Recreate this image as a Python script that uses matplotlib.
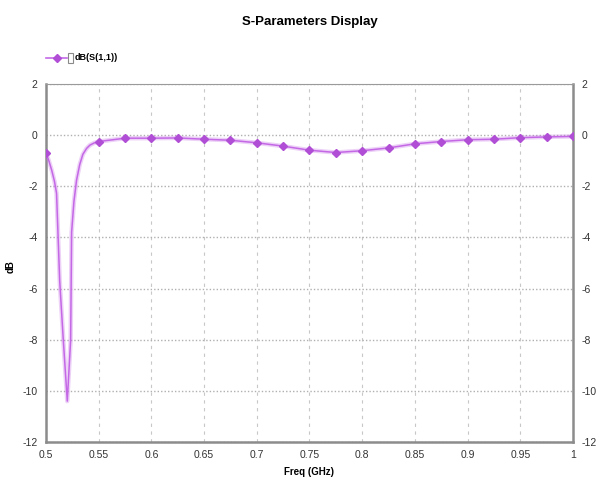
import matplotlib
matplotlib.use("Agg")
import matplotlib.pyplot as plt
from matplotlib.lines import Line2D
from matplotlib.patches import Rectangle

# S(1,1) trace
freq = [0.500, 0.5027, 0.5054, 0.508, 0.510, 0.513, 0.5164, 0.5202, 0.5234,
        0.5243, 0.5265, 0.529, 0.532, 0.535, 0.5385, 0.5417, 0.546, 0.550,
        0.575, 0.600, 0.625, 0.650, 0.675, 0.700, 0.725, 0.750, 0.775,
        0.800, 0.825, 0.850, 0.875, 0.900, 0.925, 0.950, 0.975, 1.000]
db = [-0.70, -1.0, -1.37, -1.8, -2.27, -5.7, -8.0, -10.4, -8.0,
      -3.8, -2.6, -1.76, -1.15, -0.75, -0.52, -0.39, -0.30, -0.25,
      -0.12, -0.12, -0.11, -0.16, -0.20, -0.30, -0.43, -0.59, -0.68,
      -0.61, -0.50, -0.34, -0.25, -0.18, -0.16, -0.10, -0.07, -0.05]
# markers sit on the 0.025 GHz sweep points
marker_idx = [i for i, f in enumerate(freq) if abs(f * 40 - round(f * 40)) < 1e-6]

xticks = [0.5, 0.55, 0.6, 0.65, 0.7, 0.75, 0.8, 0.85, 0.9, 0.95, 1.0]
xtick_labels = ["0.5", "0.55", "0.6", "0.65", "0.7", "0.75", "0.8", "0.85", "0.9", "0.95", "1"]
yticks = [2, 0, -2, -4, -6, -8, -10, -12]

plt.rcParams['font.family'] = ['Liberation Sans', 'DejaVu Sans']

fig = plt.figure(figsize=(6.06, 4.86), dpi=100)
ax = fig.add_axes([0.0759, 0.0905, 0.8696, 0.7367])

line_col = "#c468e6"
mark_col = "#b04ed6"
ax.plot(freq, db, color=line_col, lw=3.2, alpha=0.3, solid_capstyle="round", zorder=3)
ax.plot(freq, db, color=line_col, lw=1.1, zorder=4,
        marker="D", markersize=4.2, markevery=marker_idx,
        markerfacecolor=mark_col, markeredgecolor=mark_col)

ax.set_xlim(0.5, 1.0)
ax.set_ylim(-12, 2)
ax.set_xticks(xticks)
ax.set_xticklabels(xtick_labels)
ax.set_yticks(yticks)
ax.set_yticklabels([str(v) for v in yticks])

ax.grid(axis="y", color="#b0b0b0", linestyle=(0, (1, 1.5)), lw=1.0)
ax.grid(axis="x", color="#c8c8c8", linestyle=(0, (3, 4)), lw=0.8)

for side in ["left", "bottom", "right"]:
    ax.spines[side].set_color("#8c8c8c")
    ax.spines[side].set_linewidth(1.8)
ax.spines["top"].set_color("#9a9a9a")
ax.spines["top"].set_linewidth(0.8)

ax.tick_params(length=0, labelsize=7.5, colors="#333333", pad=6)
ax.tick_params(axis="y", labelright=True, right=False)

ax.set_xlabel("Freq (GHz)", fontsize=7, fontweight="bold", labelpad=5)
ax.set_ylabel("dB", fontsize=7, fontweight="bold")
ax.yaxis.set_label_coords(-0.058, 0.49)

fig.text(0.512, 0.955, "S-Parameters Display", ha="center", va="center",
         fontsize=9.5, fontweight="bold")

# legend row above the plot
ly = 1 - 58 / 486
fig.add_artist(Line2D([46 / 606, 57 / 606, 67 / 606], [ly, ly, ly], transform=fig.transFigure,
                      color=line_col, lw=1.2, marker="D", markersize=4, markevery=[1],
                      markerfacecolor=mark_col, markeredgecolor=mark_col))
fig.patches.append(Rectangle((68 / 606, ly - 0.011), 5 / 606, 0.022, transform=fig.transFigure,
                             facecolor="white", edgecolor="#8a8a8a", lw=0.8))
fig.text(75 / 606, ly, "dB(S(1,1))", ha="left", va="center", fontsize=6.5, fontweight="bold")

fig.savefig("out.png", dpi=100)
